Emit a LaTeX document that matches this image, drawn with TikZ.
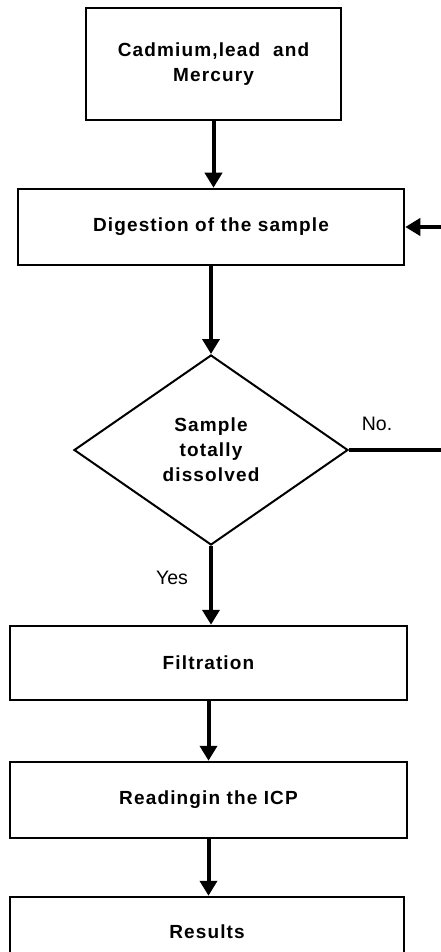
\documentclass[tikz,border=0pt]{standalone}
\usepackage{fontspec}
\setmainfont{Liberation Sans}
\newfontfamily\spacedfont[LetterSpace=6]{Liberation Sans}
\usetikzlibrary{shapes.geometric,arrows.meta}

\tikzset{
    stepbox/.style={draw, line width=2.5pt, align=center, font=\spacedfont\bfseries\fontsize{19}{25.5}\selectfont, inner sep=0pt},
    decide/.style={draw, diamond, line width=2pt, align=center, font=\spacedfont\bfseries\fontsize{19}{25}\selectfont, inner sep=0pt, minimum width=274pt, minimum height=190pt},
    flow/.style={line width=4pt, -{Triangle[length=15pt,width=17pt]}},
    tag/.style={font=\fontsize{19.5}{22}\selectfont}
}

\begin{document}
\begin{tikzpicture}[x=1pt,y=-1pt]
    \clip (0,0) rectangle (441,952); %marco de la figura

    %cajas del proceso
    \node[stepbox, minimum width=255pt, minimum height=112pt] (metals) at (213.5,64) {Cadmium,lead\ \ and\\Mercury}; %caja 1
    \node[stepbox, minimum width=386pt, minimum height=76pt] (digest) at (211,227) {Digestion of the sample}; %digestion
    \node[decide] (dissolved) at (211,450) {Sample\\totally\\dissolved}; %pregunta
    \node[stepbox, minimum width=397pt, minimum height=74pt] (filter) at (208.5,663) {Filtration}; %filtrado
    \node[stepbox, minimum width=397pt, minimum height=76pt] (icp) at (208.5,800) {Readingin the ICP}; %lectura
    \node[stepbox, minimum width=394pt, minimum height=70pt] (results) at (207,932) {Results}; %resultados

    %flechas
    \draw[flow] (metals.south) -- (metals.south |- digest.north);
    \draw[flow] (digest.south) -- (dissolved.north);
    \draw[flow] (dissolved.south) -- (dissolved.south |- filter.north);
    \draw[flow] (filter.south) -- (filter.south |- icp.north);
    \draw[flow] (icp.south) -- (icp.south |- results.north);

    %regreso cuando no se disuelve
    \coordinate (backA) at (462,450);
    \coordinate (backB) at (462,227);
    \draw[flow, line width=4.5pt] (dissolved.east) -- (backA) -- (backB) -- (digest.east);

    %etiquetas
    \node[tag] (no) at (377,424) {No.}; %etiqueta no
    \node[tag] (yes) at (172,578) {Yes}; %etiqueta si
\end{tikzpicture}
\end{document}
